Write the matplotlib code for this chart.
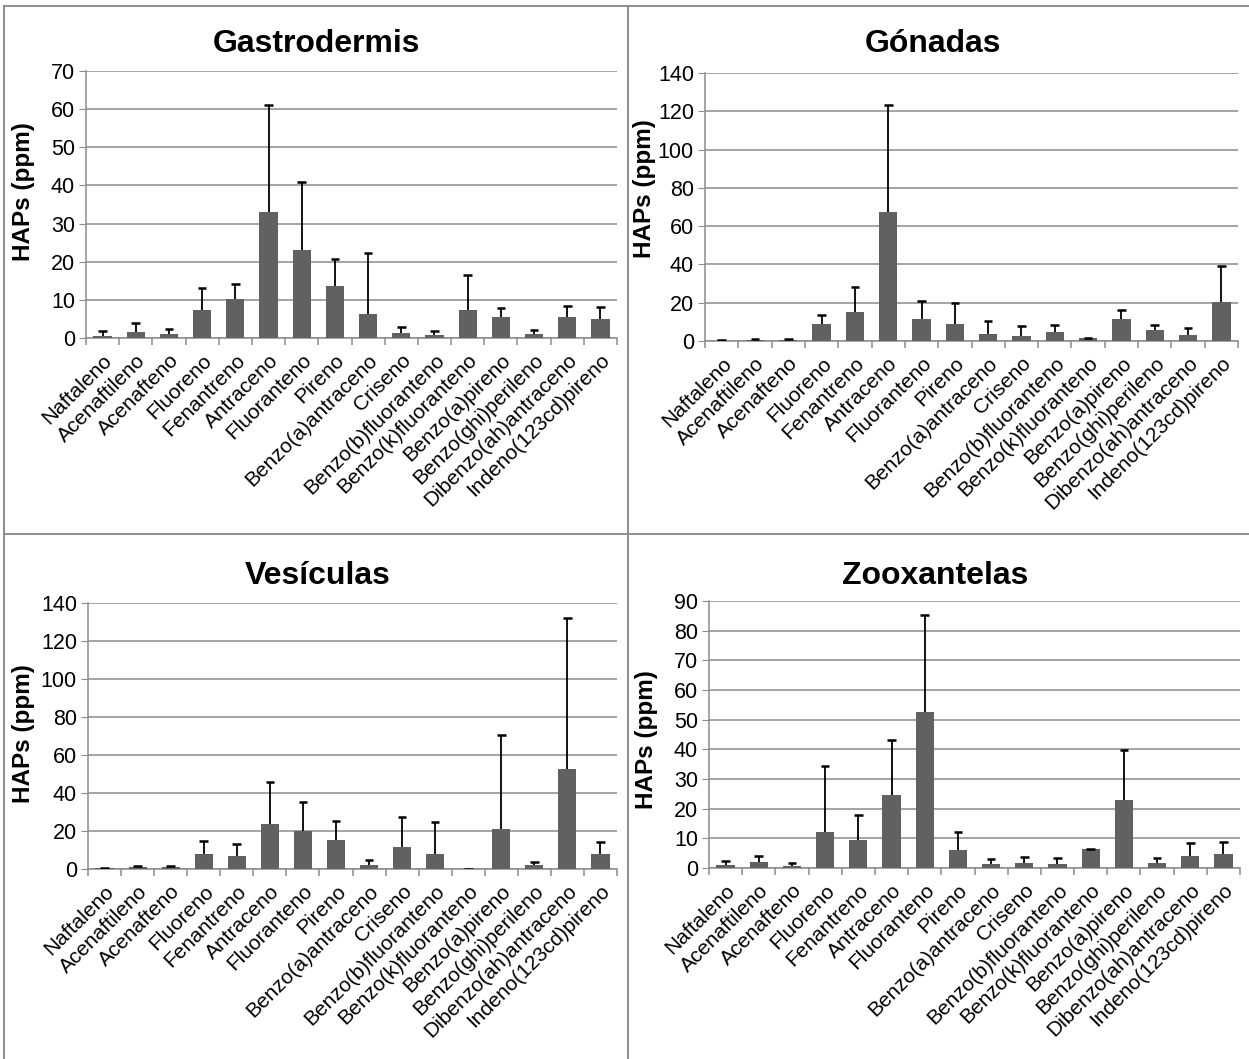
import numpy as np
import matplotlib
matplotlib.use("Agg")
import matplotlib.pyplot as plt
from matplotlib.lines import Line2D

plt.rcParams['font.family'] = ['Liberation Sans', 'DejaVu Sans']

compuestos = ["Naftaleno", "Acenaftileno", "Acenafteno", "Fluoreno", "Fenantreno",
              "Antraceno", "Fluoranteno", "Pireno", "Benzo(a)antraceno", "Criseno",
              "Benzo(b)fluoranteno", "Benzo(k)fluoranteno", "Benzo(a)pireno",
              "Benzo(ghi)perileno", "Dibenzo(ah)antraceno", "Indeno(123cd)pireno"]

# medias y desviaciones (solo se dibuja la parte superior)
gastro_media = [0.6, 1.6, 1.1, 7.3, 10.3, 33.0, 23.1, 13.6, 6.2, 1.2, 0.7, 7.3, 5.5, 1.0, 5.5, 5.0]
gastro_err = [1.2, 2.3, 1.3, 5.8, 3.9, 28.1, 17.7, 7.0, 16.0, 1.7, 1.2, 9.3, 2.4, 1.0, 2.9, 3.2]

gonadas_media = [0.2, 0.5, 0.5, 8.8, 15.1, 67.6, 11.4, 8.9, 3.9, 2.6, 4.7, 1.6, 11.7, 6.0, 3.2, 20.5]
gonadas_err = [0.1, 0.3, 0.3, 4.7, 13.1, 55.8, 9.6, 10.7, 6.6, 5.1, 3.7, 0.2, 4.4, 2.4, 3.6, 18.5]

vesic_media = [0.3, 0.8, 0.8, 7.7, 6.8, 23.6, 20.0, 15.4, 2.3, 11.7, 7.7, 0.1, 21.0, 2.1, 52.8, 7.9]
vesic_err = [0.2, 0.7, 0.7, 7.0, 6.2, 22.4, 15.2, 10.0, 2.4, 15.6, 17.0, 0.0, 49.7, 1.7, 79.5, 6.3]

zoox_media = [0.9, 1.9, 0.7, 12.0, 9.5, 24.7, 52.6, 5.9, 1.25, 1.6, 1.25, 6.3, 22.8, 1.7, 4.2, 4.6]
zoox_err = [1.5, 2.3, 1.1, 22.3, 8.3, 18.4, 32.6, 6.1, 1.95, 2.0, 2.15, 0.2, 17.1, 1.7, 4.3, 4.0]

W, H = 1249, 1059
fig = plt.figure(figsize=(W / 100, H / 100), dpi=100)

grid_col = '#8c8c8c'
bar_col = '#616161'


def panel(box, titulo, title_xy, media, err, ymax, step, ylab_xy):
    x0, y0, x1, y1 = box
    ax = fig.add_axes([x0 / W, 1 - y1 / H, (x1 - x0) / W, (y1 - y0) / H])
    x = np.arange(len(compuestos))
    media = np.array(media)
    err = np.array(err)
    ax.bar(x, media, width=0.55, color=bar_col, zorder=3)
    top = media + err
    ax.vlines(x, media, top, color='black', lw=1.3, zorder=4)
    ax.hlines(top, x - 0.13, x + 0.13, color='black', lw=1.8, zorder=4)

    ax.set_xlim(-0.5, len(compuestos) - 0.5)
    ax.set_ylim(0, ymax)
    ax.set_yticks(np.arange(0, ymax + 1, step))
    ax.yaxis.grid(True, color=grid_col, lw=1.1, zorder=0)
    ax.set_axisbelow(True)
    for s in ['top', 'right']:
        ax.spines[s].set_visible(False)
    for s in ['left', 'bottom']:
        ax.spines[s].set_color(grid_col)
        ax.spines[s].set_linewidth(1.1)
    ax.tick_params(axis='y', length=5, color=grid_col, labelsize=15.5, pad=3)
    ax.set_xticks(x)
    ax.set_xticklabels(compuestos, rotation=45, ha='right', rotation_mode='anchor', fontsize=15)
    ax.tick_params(axis='x', which='major', length=0, pad=9)
    ax.set_xticks(np.arange(-0.5, len(compuestos)), minor=True)
    ax.tick_params(axis='x', which='minor', length=5, color=grid_col, width=1.1)

    ax.set_ylabel('HAPs (ppm)', fontsize=17.5, fontweight='bold')
    ax.yaxis.set_label_coords(*ylab_xy)
    fig.text(title_xy[0] / W, 1 - title_xy[1] / H, titulo, fontsize=23, fontweight='bold',
             ha='center', va='center')
    return ax


panel((86, 71, 617, 338), 'Gastrodermis', (316, 44), gastro_media, gastro_err, 70, 10, (-0.096, 0.55))
panel((705, 73, 1238, 341), 'Gónadas', (933, 44), gonadas_media, gonadas_err, 140, 20, (-0.092, 0.57))
panel((88, 603, 617, 869), 'Vesículas', (318, 576), vesic_media, vesic_err, 140, 20, (-0.10, 0.51))
panel((709, 601, 1240, 868), 'Zooxantelas', (935, 576), zoox_media, zoox_err, 90, 10, (-0.096, 0.48))

# marcos de los graficos
def linea(xs, ys):
    fig.add_artist(Line2D([v / W for v in xs], [1 - v / H for v in ys],
                          color='#8c8c8c', lw=1.4))

linea([4, W], [6, 6])
linea([4, 4], [6, H])
linea([628, 628], [6, H])
linea([4, W], [534, 534])

fig.savefig('out.png', dpi=100)
